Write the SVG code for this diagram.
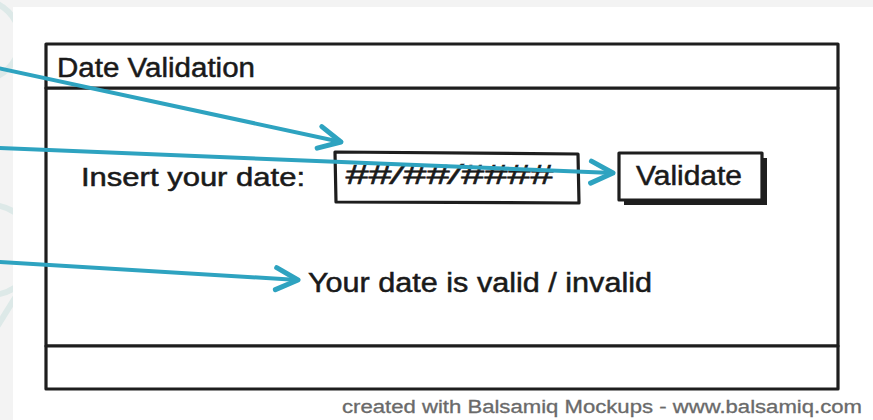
<svg xmlns="http://www.w3.org/2000/svg" width="873" height="420" viewBox="0 0 873 420">
  <defs>
    <style>
      .frame { fill: #ffffff; stroke: #1e1e1e; stroke-width: 3.2; stroke-linejoin: round; }
      .label { font-family: "Comic Sans MS", "Liberation Sans", sans-serif; fill: #1a1a1a; stroke: #1a1a1a; stroke-width: 0.5; }
      .footer { font-family: "Comic Sans MS", "Liberation Sans", sans-serif; fill: #6a6a6a; stroke: #6a6a6a; stroke-width: 0.3; font-size: 18px; }
      .callout { fill: none; stroke: #2ea3c0; stroke-width: 4; stroke-linecap: round; }
      .deco { fill: none; stroke: #dde9e8; stroke-width: 6; }
    </style>
    <marker id="chevron" viewBox="-26 -14 30 28" refX="0" refY="0" markerWidth="30" markerHeight="28" markerUnits="userSpaceOnUse" orient="auto" overflow="visible">
      <path d="M-22,-11 L0,0 L-22,11" fill="none" stroke="#2ea3c0" stroke-width="5" stroke-linecap="round" stroke-linejoin="round"/>
    </marker>
    <clipPath id="strip">
      <rect x="0" y="0" width="13" height="420"/>
    </clipPath>
  </defs>

  <!-- page background -->
  <rect x="0" y="0" width="873" height="420" fill="#f3f3f3"/>
  <g clip-path="url(#strip)">
    <circle class="deco" cx="-20" cy="40" r="40"/>
    <circle class="deco" cx="-10" cy="250" r="45"/>
    <path class="deco" d="M-5,330 L20,290"/>
  </g>
  <rect x="13" y="7" width="860" height="413" fill="#ffffff"/>

  <!-- window -->
  <g id="window">
    <rect class="frame" x="46" y="88" width="792" height="258"/>
    <rect class="frame" x="46" y="44" width="792" height="44"/>
    <text class="label" x="57" y="77" font-size="27" textLength="198" lengthAdjust="spacingAndGlyphs">Date Validation</text>
  </g>

  <g id="status-bar">
    <rect class="frame" x="46" y="346" width="792" height="43"/>
  </g>

  <g id="prompt">
    <text class="label" x="81" y="186" font-size="25" textLength="224" lengthAdjust="spacingAndGlyphs">Insert your date:</text>
  </g>

  <g id="date-input">
    <path class="frame" d="M335,152 L578,154 L579,203 L336,202 Z"/>
    <text class="label" x="345" y="184" font-size="27" font-style="italic" textLength="208" lengthAdjust="spacingAndGlyphs">##/##/####</text>
  </g>

  <g id="validate-button">
    <path d="M624,158 L767,158 L767,205 L624,205 Z" fill="#1e1e1e"/>
    <rect class="frame" x="619" y="153" width="143" height="47"/>
    <text class="label" x="636" y="185" font-size="27" textLength="106" lengthAdjust="spacingAndGlyphs">Validate</text>
  </g>

  <g id="result">
    <text class="label" x="308" y="292" font-size="27" textLength="344" lengthAdjust="spacingAndGlyphs">Your date is valid / invalid</text>
  </g>

  <text class="footer" x="342" y="413" textLength="520" lengthAdjust="spacingAndGlyphs">created with Balsamiq Mockups - www.balsamiq.com</text>

  <!-- callout arrows -->
  <g id="connectors">
    <line class="callout" x1="-2" y1="68" x2="341" y2="142" marker-end="url(#chevron)"/>
    <line class="callout" x1="-2" y1="148" x2="613" y2="173" marker-end="url(#chevron)"/>
    <line class="callout" x1="-2" y1="262" x2="298" y2="280" marker-end="url(#chevron)"/>
  </g>
</svg>
